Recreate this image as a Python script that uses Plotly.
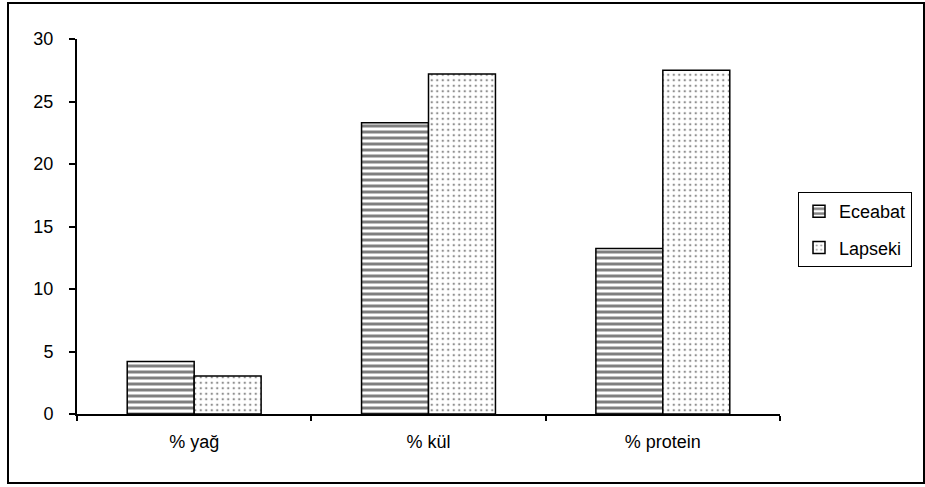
import plotly.graph_objects as go

categories = ["% yağ", "% kül", "% protein"]
eceabat = [4.2, 23.3, 13.25]
lapseki = [3.05, 27.2, 27.5]
series_names = ["Eceabat", "Lapseki"]

W, H = 925, 487
L, R, T, B = 77, 145, 39, 73
pw, ph = W - L - R, H - T - B

def px_x(x):
    return (x - L) / pw

def px_y(y):
    return (H - B - y) / ph

fnt = dict(family="Liberation Sans, Arial, sans-serif", size=18, color="black")

fig = go.Figure()
fig.add_trace(go.Bar(
    x=categories, y=eceabat, name=series_names[0], legendgroup="a",
    marker=dict(color="white", line=dict(color="black", width=1.5),
                pattern=dict(shape="-", fgcolor="black", bgcolor="white",
                             size=6, solidity=0.5, fillmode="overlay")),
))
fig.add_trace(go.Bar(
    x=categories, y=lapseki, name=series_names[1], legendgroup="b",
    marker=dict(color="white", line=dict(color="black", width=1.5),
                pattern=dict(shape=".", fgcolor="#222222", bgcolor="white",
                             size=5.5, solidity=0.15, fillmode="overlay")),
))

fig.update_layout(
    width=W, height=H,
    margin=dict(l=L, r=R, t=T, b=B),
    paper_bgcolor="white", plot_bgcolor="white",
    barmode="group", bargap=1.5 / 3.5, bargroupgap=0,
    font=fnt,
    showlegend=True,
    legend=dict(x=px_x(798), y=px_y(192), xanchor="left", yanchor="top",
                bordercolor="black", borderwidth=1, bgcolor="white",
                font=fnt, tracegroupgap=10, traceorder="grouped",
                itemwidth=30),
    xaxis=dict(showline=True, linecolor="black", linewidth=2,
               ticks="outside", ticklen=5, tickcolor="black", tickwidth=2,
               tickson="boundaries", showgrid=False, tickfont=fnt,
               zeroline=False, ticklabelstandoff=10),
    yaxis=dict(range=[0, 30], dtick=5, showline=True, linecolor="black", linewidth=2,
               ticks="outside", ticklen=6, tickcolor="black", tickwidth=2,
               showgrid=False, zeroline=False, tickfont=fnt, ticklabelstandoff=12),
    shapes=[dict(type="rect", xref="paper", yref="paper",
                 x0=px_x(8), x1=px_x(924), y0=px_y(483), y1=px_y(3),
                 line=dict(color="black", width=2), fillcolor="rgba(0,0,0,0)",
                 layer="below")],
)

fig.write_html("out.html")
